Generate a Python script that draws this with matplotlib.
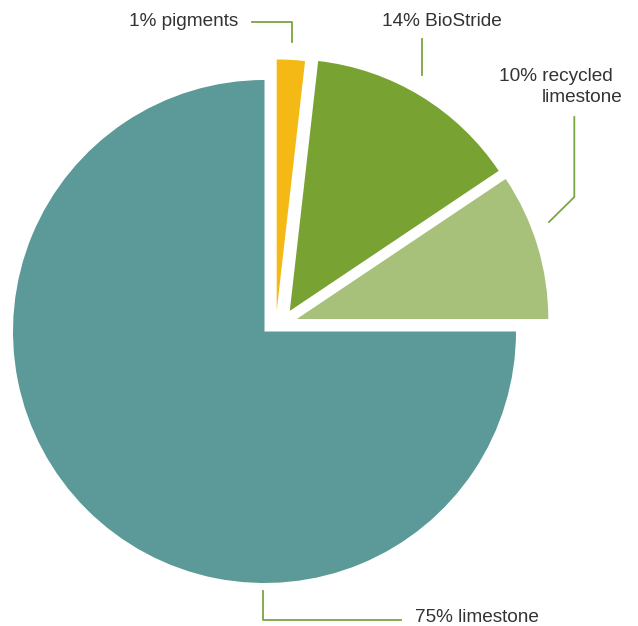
import matplotlib
matplotlib.use("Agg")
import matplotlib.pyplot as plt

# shares (labels show the rounded numbers)
componentes = ["pigments", "BioStride", "recycled limestone", "limestone"]
fatias = [1.8, 13.8, 9.4, 75.0]
rotulos = ["1% pigments", "14% BioStride", "10% recycled", "75% limestone"]
cores = ["#F4B914", "#78A232", "#A7C07A", "#5B9A98"]

# figure is laid out in pixels, y measured from the top
W, H = 638, 626
centro = (264.5, 331.5)
raio = 251.5
# each small wedge is pulled out by its own offset (dx, dy up)
deslocamentos = [(12.2, 20.5), (25.3, 20.6), (32.3, 12.5), (0, 0)]

cor_texto = "#333333"
cor_linha = "#7BA540"
fonte = "Liberation Sans"


def py(y):
    return H - y


fig = plt.figure(figsize=(W / 100, H / 100), dpi=100)
ax = fig.add_axes([0, 0, 1, 1])

fatias_pie, _ = ax.pie(fatias, colors=cores, startangle=90, counterclock=False,
                       center=(centro[0], py(centro[1])), radius=raio,
                       wedgeprops=dict(linewidth=0))

for w, (dx, dy) in zip(fatias_pie, deslocamentos):
    w.set_center((centro[0] + dx, py(centro[1]) + dy))

ax.set_xlim(0, W)
ax.set_ylim(0, H)
ax.set_aspect("auto")
ax.axis("off")

# leader lines
ax.plot([252, 292, 292], [py(21.5), py(21.5), py(42)], color=cor_linha, lw=1.3)
ax.plot([422.3, 422.3], [py(39), py(75)], color=cor_linha, lw=1.3)
ax.plot([574.3, 574.3, 549], [py(117), py(197), py(222)], color=cor_linha, lw=1.3)
ax.plot([263.3, 263.3, 401], [py(591), py(620), py(620)], color=cor_linha, lw=1.3)

kw = dict(fontsize=13.7, family=fonte, color=cor_texto, va="baseline")
ax.text(238, py(26.5), rotulos[0], ha="right", **kw)
ax.text(441.7, py(26.5), rotulos[1], ha="center", **kw)
ax.text(612.7, py(81), rotulos[2], ha="right", **kw)
ax.text(622.7, py(102.5), "limestone", ha="right", **kw)
ax.text(415, py(621.5), rotulos[3], ha="left", **kw)

fig.savefig("out.png", dpi=100)
